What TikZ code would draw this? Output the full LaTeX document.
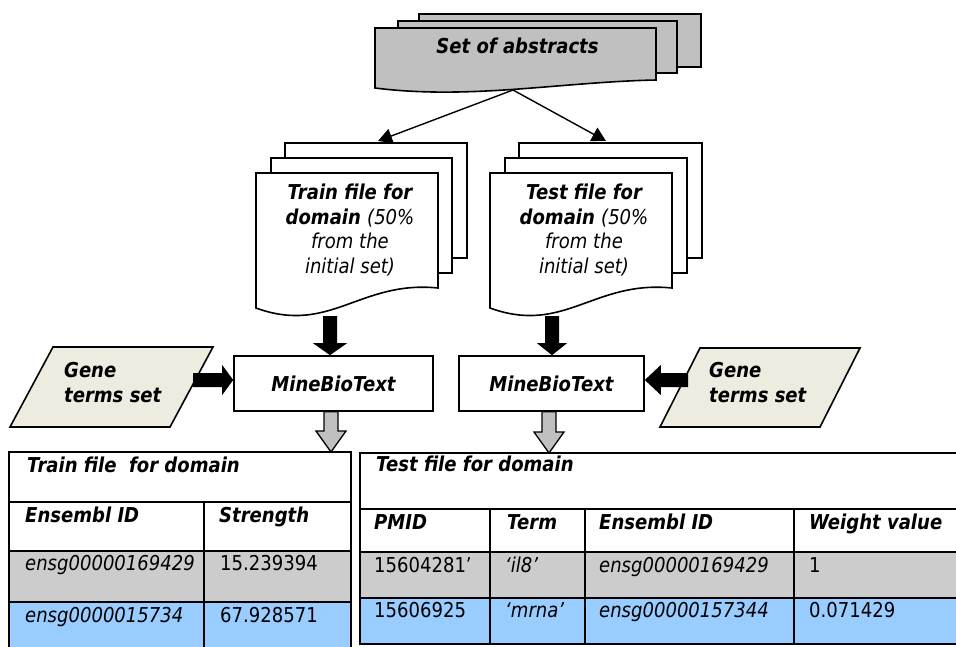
\documentclass[tikz,border=0pt]{standalone}
\usepackage{fontspec}
\setmainfont{DejaVu Sans}[FakeStretch=0.88]
\usetikzlibrary{arrows.meta,calc}
\definecolor{absgray}{HTML}{C0C0C0}
\definecolor{genefill}{HTML}{EEECE1}
\definecolor{rowgray}{HTML}{CCCCCC}
\definecolor{rowblue}{HTML}{99CCFF}
\newcommand\diafont{\fontsize{20.5}{24}\selectfont}
\tikzset{
  sheet/.style={draw=black, line width=1.6pt, line join=miter},
  absheet/.style={sheet, fill=absgray},
  docsheet/.style={sheet, fill=white},
  genesheet/.style={sheet, fill=genefill},
  procbox/.style={draw=black, line width=1.6pt, fill=white, inner sep=0pt,
    minimum height=55pt, font=\diafont\bfseries\itshape},
  thinarrow/.style={line width=1.4pt, -{Triangle[length=14pt,width=15pt]}},
  blackblk/.style={fill=black},
  grayblk/.style={fill=absgray, draw=black, line width=1.3pt, line join=miter},
  tline/.style={line width=2pt},
  txt/.style={inner sep=0pt, anchor=base west, font=\diafont},
  ctxt/.style={txt, anchor=base},
  bi/.style={font=\diafont\bfseries\itshape},
  it/.style={font=\diafont\itshape},
}
% vertical block arrow pointing down: style, from, tip, head half width, head length, shaft half width
\newcommand\vblk[6]{\path[#1] let \p1=(#2),\p2=(#3) in
  (\x2,\y2) -- (\x2-#4,\y2+#5) -- (\x2-#6,\y2+#5) -- (\x2-#6,\y1) -- (\x2+#6,\y1)
  -- (\x2+#6,\y2+#5) -- (\x2+#4,\y2+#5) -- cycle;}
% horizontal block arrow pointing right
\newcommand\rblk[6]{\path[#1] let \p1=(#2),\p2=(#3) in
  (\x2,\y2) -- (\x2-#5,\y2+#4) -- (\x2-#5,\y2+#6) -- (\x1,\y2+#6) -- (\x1,\y2-#6)
  -- (\x2-#5,\y2-#6) -- (\x2-#5,\y2-#4) -- cycle;}
% horizontal block arrow pointing left
\newcommand\lblk[6]{\path[#1] let \p1=(#2),\p2=(#3) in
  (\x2,\y2) -- (\x2+#5,\y2+#4) -- (\x2+#5,\y2+#6) -- (\x1,\y2+#6) -- (\x1,\y2-#6)
  -- (\x2+#5,\y2-#6) -- (\x2+#5,\y2-#4) -- cycle;}
\begin{document}
\begin{tikzpicture}[x=1pt,y=-1pt]
\useasboundingbox (0,0) rectangle (956,646);

% ---------- Set of abstracts ----------
\path[absheet] (419,14) rectangle (701,67);
\path[absheet] (398,21) rectangle (677,73);
\path[absheet] (375,28) -- (656,28) -- (656,80) .. controls (560,82) and (470,100) .. (375,88) -- cycle;
\node[ctxt, bi] (abstxt) at (517.5,53) {Set of abstracts};
\coordinate (absout) at (513,90);

% ---------- Train documents ----------
\path[docsheet] (285,143) rectangle (467,258);
\path[docsheet] (271,158) rectangle (452,273);
\path[docsheet] (256,173) -- (438,173) -- (438,288) .. controls (360,280) and (330,335) .. (256,308) -- cycle;
\node[ctxt, bi] (tr1) at (350,199) {Train file for};
\node[ctxt] (tr2) at (350,224) {\bfseries\itshape domain \mdseries(50\%};
\node[ctxt, it] (tr3) at (350,248) {from the};
\node[ctxt, it] (tr4) at (350,273) {initial set)};
\coordinate (trainin) at (378,141);
\coordinate (trainbot) at (330,316);

% ---------- Test documents ----------
\path[docsheet] (519,143) rectangle (702,258);
\path[docsheet] (505,158) rectangle (687,273);
\path[docsheet] (490,173) -- (672,173) -- (672,288) .. controls (594,280) and (564,335) .. (490,308) -- cycle;
\node[ctxt, bi] (te1) at (584,199) {Test file for};
\node[ctxt] (te2) at (584,224) {\bfseries\itshape domain \mdseries(50\%};
\node[ctxt, it] (te3) at (584,248) {from the};
\node[ctxt, it] (te4) at (584,273) {initial set)};
\coordinate (testin) at (606,141);
\coordinate (testbot) at (552,316);

% thin arrows
\draw[thinarrow] (absout) -- (trainin);
\draw[thinarrow] (absout) -- (testin);

% ---------- MineBioText boxes ----------
\node[procbox, minimum width=199pt] (mine1) at (333.5,383.5) {MineBioText};
\node[procbox, minimum width=185pt] (mine2) at (551.5,383.5) {MineBioText};

% black arrows from documents
\vblk{blackblk}{trainbot}{trainbot |- mine1.north}{17pt}{12pt}{7pt}
\vblk{blackblk}{testbot}{testbot |- mine2.north}{15pt}{12pt}{7pt}

% ---------- Gene terms sets ----------
\path[genesheet] (53,347) -- (213,347) -- (170,427) -- (10,427) -- cycle;
\node[txt, bi] (g1a) at (64,377) {Gene};
\node[txt, bi] (g1b) at (64,402) {terms set};
\coordinate (g1out) at (193,380);
\rblk{blackblk}{g1out}{g1out -| mine1.west}{15pt}{11pt}{7pt}

\path[genesheet] (700,348) -- (860,348) -- (820,427) -- (660,427) -- cycle;
\node[txt, bi] (g2a) at (709,377) {Gene};
\node[txt, bi] (g2b) at (709,402) {terms set};
\coordinate (g2out) at (688,380);
\lblk{blackblk}{g2out}{g2out -| mine2.east}{15pt}{16pt}{7pt}

% ---------- Train table ----------
\fill[rowgray] (9,551) rectangle (351,602);
\fill[rowblue] (9,602) rectangle (351,650);
\draw[tline] (9,452) rectangle (351,650);
\draw[tline] (9,502) -- (351,502);
\draw[tline] (9,551) -- (351,551);
\draw[tline] (9,602) -- (351,602);
\draw[tline] (204,502) -- (204,650);
\node[txt, bi] (trh) at (27,472) {Train file~ for domain};
\node[txt, bi] (trc1) at (25,522) {Ensembl ID};
\node[txt, bi] (trc2) at (219,522) {Strength};
\node[txt, it] (trd1) at (25,570) {ensg00000169429};
\node[txt] (trd2) at (220,570) {15.239394};
\node[txt, it] (trd3) at (25,622) {ensg0000015734};
\node[txt] (trd4) at (220,622) {67.928571};
\coordinate (trtop) at (331,452);

% ---------- Test table ----------
\fill[rowgray] (360,552) rectangle (962,598);
\fill[rowblue] (360,598) rectangle (962,644);
\draw[tline] (360,453) rectangle (962,644);
\draw[tline] (360,509) -- (962,509);
\draw[tline] (360,552) -- (962,552);
\draw[tline] (360,598) -- (962,598);
\draw[tline] (490,509) -- (490,644);
\draw[tline] (585,509) -- (585,644);
\draw[tline] (794,509) -- (794,644);
\node[txt, bi] (teh) at (376,471) {Test file for domain};
\node[txt, bi] (tec1) at (374,529) {PMID};
\node[txt, bi] (tec2) at (507,529) {Term};
\node[txt, bi] (tec3) at (599,529) {Ensembl ID};
\node[txt, bi] (tec4) at (809,529) {Weight value};
\node[txt] (ted1) at (374,572) {15604281’};
\node[txt, it] (ted2) at (505,572) {‘il8’};
\node[txt, it] (ted3) at (599,572) {ensg00000169429};
\node[txt] (ted4) at (809,572) {1};
\node[txt] (ted5) at (374,617) {15606925};
\node[txt, it] (ted6) at (505,617) {‘mrna’};
\node[txt, it] (ted7) at (599,617) {ensg00000157344};
\node[txt] (ted8) at (809,617) {0.071429};
\coordinate (tetop) at (549,453);

% gray arrows from MineBioText to tables
\vblk{grayblk}{trtop |- mine1.south}{trtop}{15pt}{21pt}{7pt}
\vblk{grayblk}{tetop |- mine2.south}{tetop}{15pt}{21pt}{7pt}
\end{tikzpicture}
\end{document}
